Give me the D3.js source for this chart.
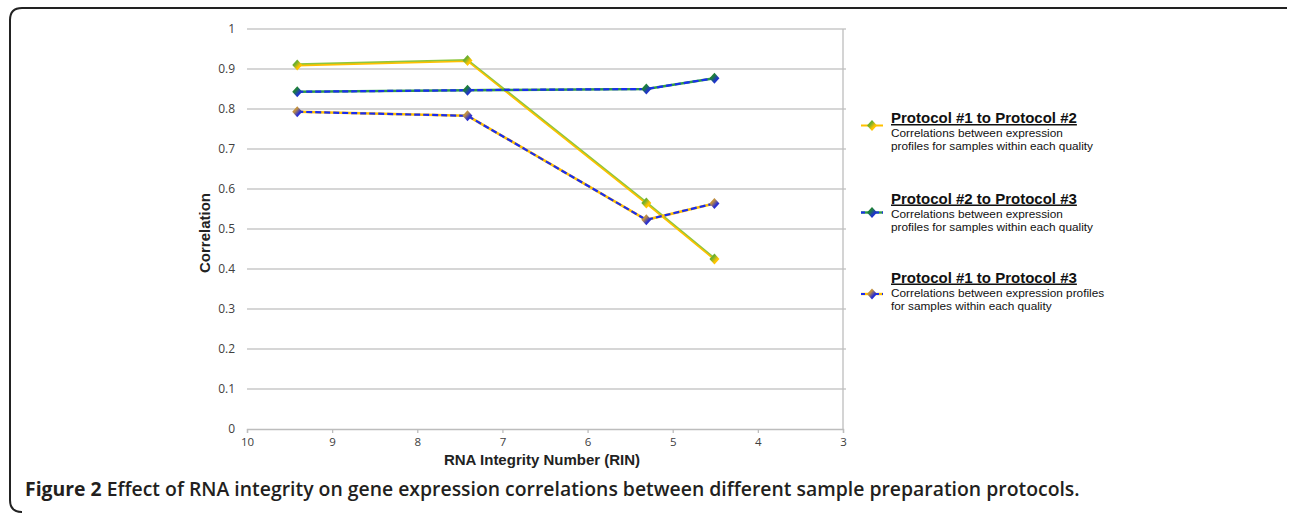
<!DOCTYPE html>
<html><head><meta charset="utf-8">
<script src="https://cdn.jsdelivr.net/npm/d3@7"></script>
<style>body{margin:0;background:#fff}</style>
</head><body><svg id="c" width="1290" height="514"></svg>
<script>
// ---- data ----
const rin = [9.41, 7.41, 5.31, 4.51];
const p1p2 = [0.910, 0.921, 0.565, 0.425];
const p2p3 = [0.843, 0.847, 0.850, 0.877];
const p1p3 = [0.793, 0.783, 0.523, 0.564];
const seriesNames = ["Protocol #1 to Protocol #2", "Protocol #2 to Protocol #3", "Protocol #1 to Protocol #3"];
const legendDesc = [
  ["Correlations between expression", "profiles for samples within each quality"],
  ["Correlations between expression", "profiles for samples within each quality"],
  ["Correlations between expression profiles", "for samples within each quality"]
];
const yTicks = [0, 0.1, 0.2, 0.3, 0.4, 0.5, 0.6, 0.7, 0.8, 0.9, 1];
const xTicks = [10, 9, 8, 7, 6, 5, 4, 3];
const xTitle = "RNA Integrity Number (RIN)";
const yTitle = "Correlation";
const captionBold = "Figure 2";
const captionRest = " Effect of RNA integrity on gene expression correlations between different sample preparation protocols.";

// ---- styles ----
const styles = [
  {base: "#8dc63f", top: "#ffc000", dash: null, g1: "#6fb02e", g2: "#ffc400"},
  {base: "#2e9a48", top: "#1a2cf0", dash: "6,3", g1: "#1d7f3a", g2: "#1f34c8"},
  {base: "#ffc000", top: "#1a2cf0", dash: "6,3", g1: "#c09040", g2: "#2a30d0"}
];
const allSeries = [p1p2, p2p3, p1p3];

const svg = d3.select("#c");
const x = d3.scaleLinear().domain([10, 3]).range([247, 843]);
const y = d3.scaleLinear().domain([0, 1]).range([429, 29]);

// frame
svg.append("path")
  .attr("d", "M1287,8 L22,8 Q10,8 10,20 L10,500 Q10,512 22,512")
  .attr("fill", "none").attr("stroke", "#222").attr("stroke-width", 2);

// gradients
const defs = svg.append("defs");
styles.forEach((s, i) => {
  const g = defs.append("linearGradient").attr("id", "g" + i)
    .attr("x1", "0").attr("y1", "0").attr("x2", "1").attr("y2", "1");
  g.append("stop").attr("offset", "0.35").attr("stop-color", s.g1);
  g.append("stop").attr("offset", "0.65").attr("stop-color", s.g2);
});

// gridlines
svg.append("g").selectAll("line").data(yTicks.filter(d => d > 0)).join("line")
  .attr("x1", x(10)).attr("x2", x(3) + 3)
  .attr("y1", d => y(d)).attr("y2", d => y(d))
  .attr("stroke", "#c8c8c8").attr("stroke-width", 1.3);

// vertical axis line at right (reversed category axis)
svg.append("line").attr("x1", x(3)).attr("x2", x(3)).attr("y1", y(1)).attr("y2", y(0))
  .attr("stroke", "#bdbdbd").attr("stroke-width", 1.3);

// y axis labels
const yAx = svg.append("g").attr("transform", `translate(${x(10)},0)`)
  .call(d3.axisLeft(y).tickValues(yTicks).tickSize(0).tickPadding(12).tickFormat(d3.format("~g")));
yAx.select(".domain").remove();
yAx.selectAll("text").attr("font-family", "Open Sans").attr("font-size", 12).attr("fill", "#404040");

// x axis
const xAx = svg.append("g").attr("transform", `translate(0,${y(0)})`)
  .call(d3.axisBottom(x).tickValues(xTicks).tickSize(4).tickPadding(5).tickFormat(d3.format("d")));
xAx.select(".domain").attr("stroke", "#bdbdbd").attr("stroke-width", 1.3);
xAx.selectAll(".tick line").attr("stroke", "#bdbdbd").attr("stroke-width", 1.3);
xAx.selectAll("text").attr("font-family", "Open Sans").attr("font-size", 11.5).attr("fill", "#404040");

// axis titles
svg.append("text").attr("x", 542).attr("y", 465).attr("text-anchor", "middle")
  .attr("font-family", "Liberation Sans, Arial").attr("font-weight", "bold").attr("font-size", 15)
  .attr("fill", "#222").text(xTitle);
svg.append("text").attr("transform", "translate(210,233) rotate(-90)").attr("text-anchor", "middle")
  .attr("font-family", "Liberation Sans, Arial").attr("font-weight", "bold").attr("font-size", 15)
  .attr("fill", "#222").text(yTitle);

// series
const line = d3.line().x(d => x(d[0])).y(d => y(d[1]));
const diamond = "M0,-5.5L5,0L0,5.5L-5,0Z";
allSeries.forEach((vals, i) => {
  const s = styles[i];
  const pts = rin.map((r, j) => [r, vals[j]]);
  const g = svg.append("g");
  if (s.dash) {
    g.append("path").attr("d", line(pts)).attr("fill", "none").attr("stroke", s.base).attr("stroke-width", 2.6);
    g.append("path").attr("d", line(pts)).attr("fill", "none").attr("stroke", s.top).attr("stroke-width", 2.2)
      .attr("stroke-dasharray", s.dash);
  } else {
    g.append("path").attr("d", line(pts)).attr("fill", "none").attr("stroke", s.base).attr("stroke-width", 2.2)
      .attr("transform", "translate(0,-0.6)");
    g.append("path").attr("d", line(pts)).attr("fill", "none").attr("stroke", s.top).attr("stroke-width", 1.6)
      .attr("transform", "translate(0,0.6)");
  }
  g.selectAll(".m").data(pts).join("path").attr("class", "m")
    .attr("d", diamond).attr("transform", d => `translate(${x(d[0])},${y(d[1])})`)
    .attr("fill", `url(#g${i})`);
});

// legend
const legTitleY = [123, 203.5, 282.5];
const legMarkY = [125.5, 212.5, 294];
seriesNames.forEach((name, i) => {
  const s = styles[i];
  const g = svg.append("g");
  const my = legMarkY[i];
  if (s.dash) {
    g.append("line").attr("x1", 861).attr("x2", 883).attr("y1", my).attr("y2", my)
      .attr("stroke", s.base).attr("stroke-width", 2.4);
    g.append("line").attr("x1", 861).attr("x2", 883).attr("y1", my).attr("y2", my)
      .attr("stroke", s.top).attr("stroke-width", 2).attr("stroke-dasharray", "4,3");
  } else {
    g.append("line").attr("x1", 861).attr("x2", 883).attr("y1", my).attr("y2", my)
      .attr("stroke", s.top).attr("stroke-width", 2);
  }
  g.append("path").attr("d", diamond).attr("transform", `translate(872,${my})`).attr("fill", `url(#g${i})`);
  const ty = legTitleY[i];
  g.append("text").attr("x", 891).attr("y", ty)
    .attr("font-family", "Liberation Sans, Arial").attr("font-weight", "bold").attr("font-size", 15)
    .attr("fill", "#111").attr("text-decoration", "underline").text(name);
  legendDesc[i].forEach((t, k) => {
    g.append("text").attr("x", 891).attr("y", ty + 14 + k * 13.4)
      .attr("font-family", "Liberation Sans, Arial").attr("font-size", 11.8)
      .attr("fill", "#111").text(t);
  });
});

// caption
const cap = svg.append("text").attr("x", 25).attr("y", 496)
  .attr("font-family", "Open Sans").attr("font-size", 19.4).attr("fill", "#231f20");
cap.append("tspan").attr("font-weight", 700).text(captionBold);
cap.append("tspan").attr("font-weight", 600).text(captionRest);
</script>
</body></html>
